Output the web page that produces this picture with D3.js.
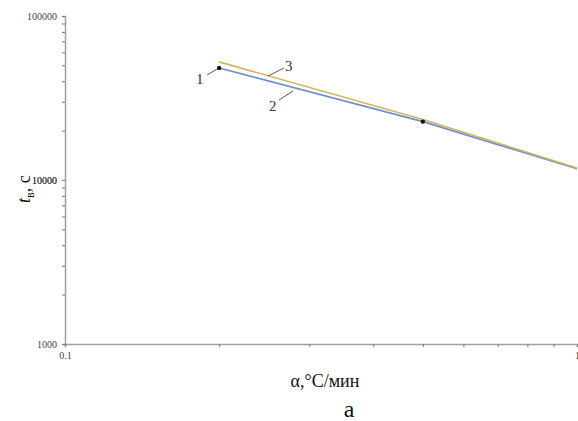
<!DOCTYPE html>
<html><head><meta charset="utf-8">
<script src="https://cdn.jsdelivr.net/npm/d3@7"></script>
<style>body{margin:0;background:#fff}svg{display:block}</style>
</head><body>
<svg id="c" width="578" height="421"></svg>
<script>
const xTicks=[0.1,1];
const yTicks=[1000,10000,100000];
const series2=[[0.2,48200],[0.5,22700],[1,11700]];
const series3=[[0.2,52500],[0.5,23400],[1,11850]];
const dots1=[[0.2,48200],[0.5,22700]];

const FF="Liberation Serif";
const svg=d3.select("#c");
const x=d3.scaleLog().domain([0.1,1]).range([65,577]);
const y=d3.scaleLog().domain([1000,100000]).range([344,16]);
const axisCol="#a0a0a0";

const yMinor=[];for(let d=1000;d<100000;d*=10)for(let k=1;k<=10;k++)yMinor.push(d*k);
const yAxis=d3.axisLeft(y).tickValues(yMinor).tickSize(3).tickFormat(d=>yTicks.includes(d)?String(d):"");
const gy=svg.append("g").attr("transform","translate(65,0)").call(yAxis);
gy.attr("font-family",FF).attr("font-size",10);
gy.select(".domain").attr("stroke",axisCol).attr("stroke-width",1.5);
gy.selectAll(".tick line").attr("stroke","#777");
gy.selectAll("text").attr("fill","#444").attr("x",-8);

const xMinor=[];for(let k=1;k<=10;k++)xMinor.push(0.1*k);
const xAxis=d3.axisBottom(x).tickValues(xMinor).tickSize(3).tickFormat((d,i)=>i===0?"0.1":(i===9?"1":""));
const gx=svg.append("g").attr("transform","translate(0,344)").call(xAxis);
gx.attr("font-family",FF).attr("font-size",10);
gx.select(".domain").attr("stroke",axisCol).attr("stroke-width",1.5);
gx.selectAll(".tick line").attr("stroke","#777");
gx.selectAll("text").attr("fill","#444").attr("dy","0.9em");

const line=d3.line().x(d=>x(d[0])).y(d=>y(d[1]));
svg.append("path").datum(series2).attr("d",line).attr("fill","none").attr("stroke","#6f8ecb").attr("stroke-width",1.6);
svg.append("path").datum(series3).attr("d",line).attr("fill","none").attr("stroke","#d6b45c").attr("stroke-width",1.6);
svg.selectAll("circle.d").data(dots1).enter().append("circle").attr("cx",d=>x(d[0])).attr("cy",d=>y(d[1])).attr("r",2.2).attr("fill","#111");

function leader(px,py,dx,dy,lx,ly,t){
  svg.append("line").attr("x1",px).attr("y1",py).attr("x2",px+dx).attr("y2",py+dy).attr("stroke","#555").attr("stroke-width",1);
  svg.append("text").attr("x",lx).attr("y",ly).text(t).attr("font-family",FF).attr("font-size",15).attr("fill","#333");
}
const p1=[x(0.2),y(48200)];
leader(p1[0]-2,p1[1]+1,-10,6,196,84,"1");
leader(284,68,-16,8,285,71,"3");
leader(293,91,-14,9,269,111,"2");

svg.append("text").attr("x",325).attr("y",387).attr("text-anchor","middle").attr("font-family",FF).attr("font-size",18).attr("fill","#111").text("α,°C/мин");
svg.append("text").attr("x",349).attr("y",417).attr("text-anchor","middle").attr("font-family",FF).attr("font-size",24).attr("fill","#111").text("а");
const yl=svg.append("text").attr("transform","translate(30,203) rotate(-90)").attr("font-family",FF).attr("font-size",18).attr("fill","#111");
yl.append("tspan").attr("font-style","italic").text("t");
yl.append("tspan").attr("font-size",12).attr("dy",4).text("в");
yl.append("tspan").attr("dy",-4).text(", с");
</script>
</body></html>
